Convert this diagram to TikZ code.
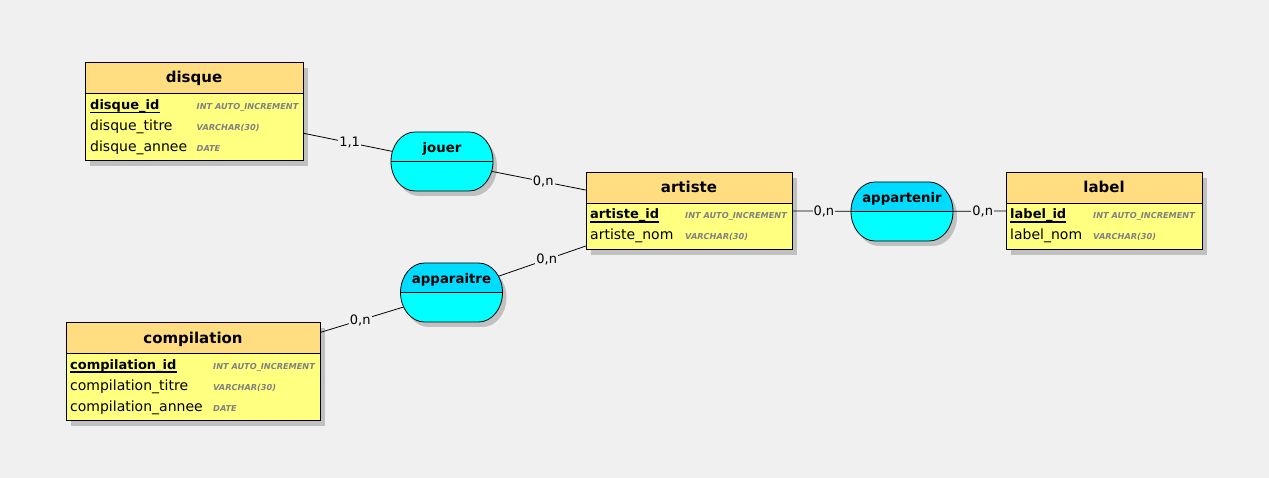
\documentclass[tikz,border=0pt]{standalone}
\usepackage{fontspec}
\setmainfont{DejaVu Sans}
\definecolor{bg}{RGB}{240,240,240}
\definecolor{headfill}{RGB}{255,221,128}
\definecolor{bodyfill}{RGB}{255,255,128}
\definecolor{assoctop}{RGB}{0,219,255}
\definecolor{assocbot}{RGB}{0,255,255}
\definecolor{shadowc}{RGB}{192,192,192}
\definecolor{typec}{RGB}{128,128,128}
\pgfdeclarelayer{bglayer}
\pgfdeclarelayer{shadowlayer}
\pgfdeclarelayer{connlayer}
\pgfsetlayers{bglayer,shadowlayer,connlayer,main}
\newcommand\assocpath[1]{([xshift=24pt]#1.north west) -- ([xshift=-24pt]#1.north east) arc[start angle=90,end angle=-90,x radius=24pt,y radius=29.5pt] -- ([xshift=24pt]#1.south west) arc[start angle=270,end angle=90,x radius=24pt,y radius=29.5pt] -- cycle}
\begin{document}
\begin{tikzpicture}[x=1pt,y=-1pt,
  entity/.style={draw, line width=0.8pt, fill=bodyfill, inner sep=0pt, outer sep=0pt,
    path picture={
      \fill[headfill] (path picture bounding box.north west) rectangle ([yshift=-31pt]path picture bounding box.north east);
      \draw[line width=0.8pt] ([yshift=-31pt]path picture bounding box.north west) -- ([yshift=-31pt]path picture bounding box.north east);}},
  assocnode/.style={rectangle, minimum width=102pt, minimum height=59pt, inner sep=0pt, outer sep=0pt},
  assocline/.style={line width=0.8pt},
  eshadow/.style={fill=shadowc},
  etitle/.style={anchor=base, inner sep=0pt, font=\fontsize{15}{15}\selectfont\bfseries},
  atitle/.style={anchor=base, inner sep=0pt, font=\fontsize{13.3}{13.3}\selectfont\bfseries},
  attr/.style={anchor=base west, inner sep=0pt, font=\fontsize{14}{14}\selectfont},
  idattr/.style={anchor=base west, inner sep=0pt, font=\fontsize{13}{13}\selectfont\bfseries},
  typ/.style={anchor=base west, inner sep=0pt, text=typec, font=\fontsize{8.2}{8.2}\selectfont\bfseries\itshape},
  uline/.style={line width=1.3pt},
  conn/.style={line width=0.8pt},
  card/.style={fill=bg, inner sep=1pt, font=\fontsize{13}{13}\selectfont}]
\begin{pgfonlayer}{bglayer}
\fill[bg] (0,0) rectangle (1269,478);
\end{pgfonlayer}
\useasboundingbox (0,0) rectangle (1269,478);

% ---- disque ----
\node[entity, minimum width=218pt, minimum height=98pt] (disque) at (194,111) {};
\node[etitle] (disqueT) at (194,83) {disque};
\node[idattr] (disqueA) at (90,109.5) {disque\_id};
\node[attr] (disqueB) at (90,130.5) {disque\_titre};
\node[attr] (disqueC) at (90,151.5) {disque\_annee};
\node[typ] (disqueTA) at (196.5,109.5) {INT AUTO\_INCREMENT};
\node[typ] (disqueTB) at (196.5,130.5) {VARCHAR(30)};
\node[typ] (disqueTC) at (196.5,151.5) {DATE};
\draw[uline] ([yshift=-3pt]disqueA.base west) -- ([yshift=-3pt]disqueA.base east);

% ---- artiste ----
\node[entity, minimum width=206pt, minimum height=77pt] (artiste) at (689,210.5) {};
\node[etitle] (artisteT) at (689,193) {artiste};
\node[idattr] (artisteA) at (590,219) {artiste\_id};
\node[attr] (artisteB) at (590,240) {artiste\_nom};
\node[typ] (artisteTA) at (685,219) {INT AUTO\_INCREMENT};
\node[typ] (artisteTB) at (685,240) {VARCHAR(30)};
\draw[uline] ([yshift=-3pt]artisteA.base west) -- ([yshift=-3pt]artisteA.base east);

% ---- label ----
\node[entity, minimum width=196pt, minimum height=77pt] (label) at (1104,210.5) {};
\node[etitle] (labelT) at (1104,193) {label};
\node[idattr] (labelA) at (1010,219) {label\_id};
\node[attr] (labelB) at (1010,240) {label\_nom};
\node[typ] (labelTA) at (1093,219) {INT AUTO\_INCREMENT};
\node[typ] (labelTB) at (1093,240) {VARCHAR(30)};
\draw[uline] ([yshift=-3pt]labelA.base west) -- ([yshift=-3pt]labelA.base east);

% ---- compilation ----
\node[entity, minimum width=254pt, minimum height=98pt] (compil) at (193,371) {};
\node[etitle] (compilT) at (193,343) {compilation};
\node[idattr] (compilA) at (70,369) {compilation\_id};
\node[attr] (compilB) at (70,390) {compilation\_titre};
\node[attr] (compilC) at (70,411) {compilation\_annee};
\node[typ] (compilTA) at (213,369) {INT AUTO\_INCREMENT};
\node[typ] (compilTB) at (213,390) {VARCHAR(30)};
\node[typ] (compilTC) at (213,411) {DATE};
\draw[uline] ([yshift=-3pt]compilA.base west) -- ([yshift=-3pt]compilA.base east);

% ---- entity shadows ----
\begin{pgfonlayer}{shadowlayer}
\foreach \e in {disque,artiste,label,compil}
  \fill[eshadow] ([shift={(5pt,-6pt)}]\e.north west) rectangle ([shift={(5pt,-6pt)}]\e.south east);
\end{pgfonlayer}

% ---- associations ----
\node[assocnode] (jouer) at (442,161.5) {};
\node[assocnode] (appart) at (902,211.5) {};
\node[assocnode] (appar) at (451.5,292.5) {};

\begin{pgfonlayer}{shadowlayer}
\foreach \a in {jouer,appart,appar}
  \fill[eshadow, transform canvas={shift={(4pt,-5pt)}}] \assocpath{\a};
\end{pgfonlayer}

\fill[assocbot] \assocpath{jouer};
\draw[assocline] (jouer.west) -- (jouer.east);
\draw[assocline] \assocpath{jouer};

\foreach \a in {appart,appar}{
  \fill[assocbot] \assocpath{\a};
  \begin{scope}
    \clip \assocpath{\a};
    \fill[assoctop] (\a.north west) rectangle (\a.east);
  \end{scope}
  \draw[assocline] (\a.west) -- (\a.east);
  \draw[assocline] \assocpath{\a};
}
\node[atitle] (jouerT) at (442,153) {jouer};
\node[atitle] (appartT) at (902,203) {appartenir};
\node[atitle] (apparT) at (451.5,284) {apparaitre};

% ---- connectors ----
\begin{pgfonlayer}{connlayer}
\draw[conn, shorten >=-10pt] (disque) -- node[card, pos=0.53] (c1) {1,1} (jouer);
\draw[conn, shorten <=-10pt] (jouer) -- node[card, pos=0.54] (c2) {0,n} (artiste);
\draw[conn, shorten >=-10pt] (artiste) -- node[card, pos=0.54] (c3) {0,n} (appart);
\draw[conn, shorten <=-10pt] (appart) -- node[card, pos=0.56] (c4) {0,n} (label);
\draw[conn, shorten <=-10pt] (appar) -- node[card, pos=0.53] (c5) {0,n} (artiste);
\draw[conn, shorten >=-10pt] (compil) -- node[card, pos=0.5] (c6) {0,n} (appar);
\end{pgfonlayer}
\end{tikzpicture}
\end{document}
